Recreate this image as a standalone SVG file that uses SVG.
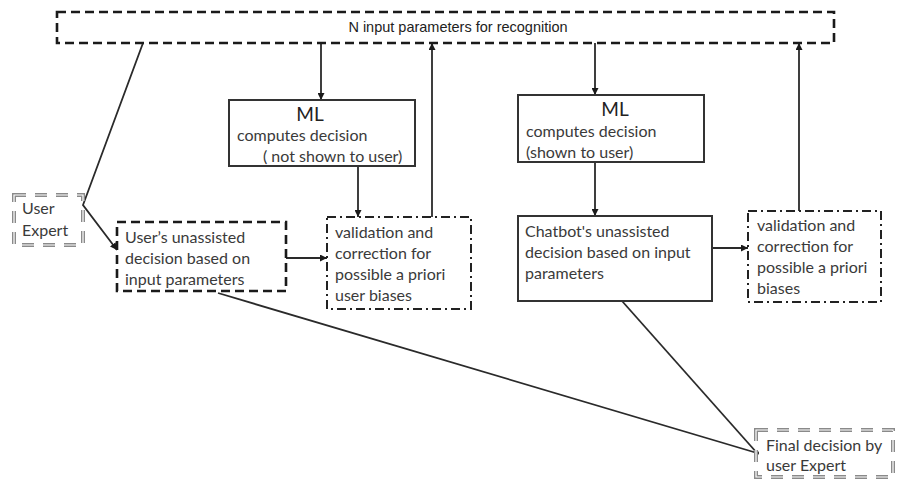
<svg xmlns="http://www.w3.org/2000/svg" width="903" height="481" viewBox="0 0 903 481">
<style>
text{font-family:Lato,"Open Sans","Liberation Sans",sans-serif;font-size:16px;fill:#3a3a3a}
.top{font-family:"Liberation Sans",Arial,sans-serif;font-size:14.5px;fill:#222}
.ml{font-size:19px;fill:#222}
.solid{fill:#fff;stroke:#333;stroke-width:2}
.dash{fill:#fff;stroke:#1a1a1a;stroke-width:2.6;stroke-dasharray:9 5}
.dashdot{fill:#fff;stroke:#222;stroke-width:2;stroke-dasharray:9 4 2 4}
.grayout{fill:none;stroke:#8a8a8a;stroke-width:4;stroke-dasharray:12 9}
.grayin{fill:none;stroke:#fff;stroke-width:1.2;stroke-dasharray:12 9}
.conn{fill:none;stroke:#2a2a2a;stroke-width:1.8}
.arr{marker-end:url(#ah)}
</style>
<defs>
<marker id="ah" viewBox="0 0 10 10" refX="10" refY="5" markerWidth="7" markerHeight="7" markerUnits="userSpaceOnUse" orient="auto">
<path d="M0,0 L10,5 L0,10 z" fill="#1a1a1a"/>
</marker>
</defs>
<rect width="903" height="481" fill="#fff"/>
<g id="connectors">
<polyline class="conn arr" points="143,43 83,205 117,250"/>
<line class="conn arr" x1="321" y1="43" x2="321" y2="100"/>
<line class="conn arr" x1="432" y1="217" x2="432" y2="43"/>
<line class="conn arr" x1="358" y1="166" x2="358" y2="217"/>
<line class="conn arr" x1="286" y1="258" x2="327" y2="258"/>
<line class="conn arr" x1="595" y1="43" x2="595" y2="95"/>
<line class="conn arr" x1="595" y1="162" x2="595" y2="216"/>
<line class="conn arr" x1="712" y1="248" x2="748" y2="248"/>
<line class="conn arr" x1="799" y1="211" x2="799" y2="43"/>
<line class="conn" x1="218" y1="293" x2="757" y2="453"/>
<line class="conn" x1="622" y1="301" x2="757" y2="453"/>
<circle cx="757" cy="453" r="2" fill="#111"/>
</g>
<g id="input-params">
<rect class="dash" x="57" y="12" width="777" height="31" style="fill:none"/>
<text class="top" x="458" y="32" text-anchor="middle">N input parameters for recognition</text>
</g>
<g id="user-expert">
<rect class="grayout" x="14" y="195" width="69" height="50"/>
<rect class="grayin" x="14" y="195" width="69" height="50"/>
<text x="22" y="214">User</text>
<text x="22" y="236">Expert</text>
</g>
<g id="ml-hidden">
<rect class="solid" x="229" y="100" width="186" height="66"/>
<text class="ml" x="310" y="121" text-anchor="middle">ML</text>
<text x="237" y="141">computes decision</text>
<text x="263" y="162">( not shown to user)</text>
</g>
<g id="user-unassisted">
<rect class="dash" x="117" y="222" width="169" height="69"/>
<text x="125" y="243">User’s unassisted</text>
<text x="125" y="264">decision based on</text>
<text x="125" y="285">input parameters</text>
</g>
<g id="validation-user">
<rect class="dashdot" x="327" y="217" width="144" height="92"/>
<text x="335" y="238">validation and</text>
<text x="335" y="259">correction for</text>
<text x="335" y="280">possible a priori</text>
<text x="335" y="301">user biases</text>
</g>
<g id="ml-shown">
<rect class="solid" x="518" y="95" width="186" height="67"/>
<text class="ml" x="615" y="116" text-anchor="middle">ML</text>
<text x="526" y="137">computes decision</text>
<text x="526" y="158">(shown to user)</text>
</g>
<g id="chatbot">
<rect class="solid" x="518" y="216" width="194" height="85"/>
<text x="525" y="237">Chatbot's unassisted</text>
<text x="525" y="258">decision based on  input</text>
<text x="525" y="279">parameters</text>
</g>
<g id="validation-chatbot">
<rect class="dashdot" x="748" y="211" width="133" height="91"/>
<text x="757" y="231">validation and</text>
<text x="757" y="252">correction for</text>
<text x="757" y="273">possible a priori</text>
<text x="757" y="294">biases</text>
</g>
<g id="final-decision">
<rect class="grayout" x="756" y="430" width="137" height="47"/>
<rect class="grayin" x="756" y="430" width="137" height="47"/>
<text x="766" y="451">Final decision by</text>
<text x="766" y="471">user Expert</text>
</g>
</svg>
